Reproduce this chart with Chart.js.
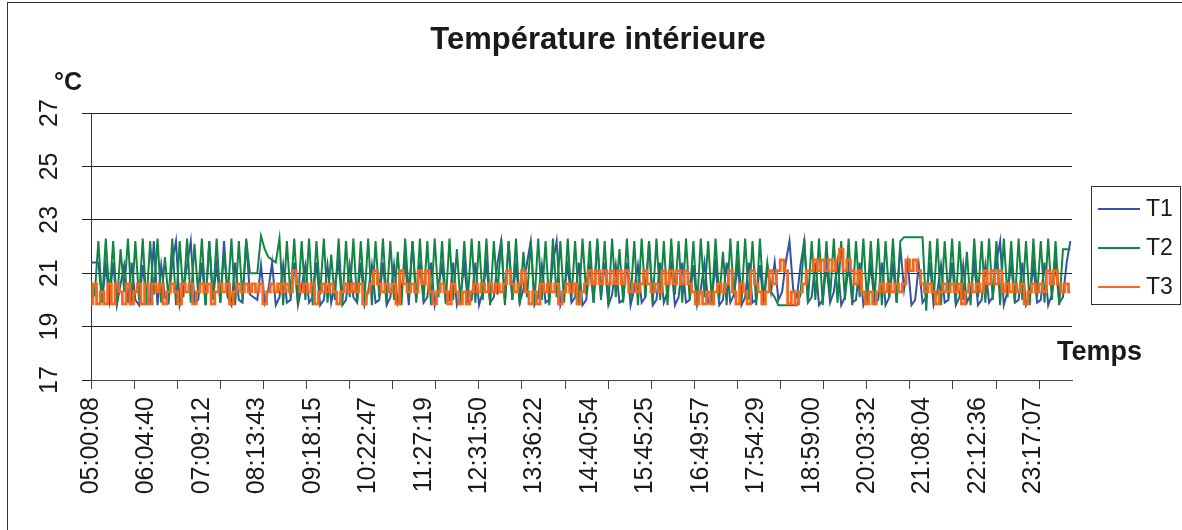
<!DOCTYPE html>
<html lang="fr">
<head>
  <meta charset="UTF-8">
  <title>Température intérieure</title>
  <script src="https://cdn.jsdelivr.net/npm/chart.js"></script>
  <style>
    * { margin: 0; padding: 0; box-sizing: border-box; }
    body { background: #ffffff; width: 1182px; height: 530px; overflow: hidden; }
    #chart-wrap { position: relative; width: 1182px; height: 530px; }
  </style>
</head>
<body>
  <div id="chart-wrap">
    <canvas id="tempChart" width="1182" height="530"></canvas>
  </div>

  <script>
    // sampling: one reading every 258 s, starting at 05:00:08
    const START_TIME = '05:00:08';
    const SAMPLE_S = 258.12;
    const AXIS_END_S = 68517;
    const TICK_STEP_S = 3010;

    const TIME_LABELS = [
      '05:00:08', '06:04:40', '07:09:12', '08:13:43', '09:18:15', '10:22:47',
      '11:27:19', '12:31:50', '13:36:22', '14:40:54', '15:45:25', '16:49:57',
      '17:54:29', '18:59:00', '20:03:32', '21:08:04', '22:12:36', '23:17:07'
    ];
    const Y_TICKS = [17, 19, 21, 23, 25, 27];

    const T1 = [
      21.4, 21.4, 21.4, 19.9, 21.3, 20.0, 21.4, 19.8, 20.6, 21.3, 19.9, 21.4, 20.0, 19.8, 21.3,
      20.0, 19.9, 22.2, 19.8, 21.3, 20.1, 19.9, 21.4, 22.2, 19.8, 20.4, 21.3, 22.2, 19.9, 20.0,
      21.4, 19.8, 22.2, 20.0, 21.3, 19.9, 22.2, 20.1, 19.8, 21.4, 20.0, 19.9, 22.2, 20.2, 20.1,
      20.0, 21.3, 19.9, 20.4, 21.4, 19.8, 20.1, 21.3, 19.9, 20.0, 21.4, 19.8, 20.5, 21.3, 19.9,
      20.1, 21.4, 19.8, 20.0, 21.3, 19.9, 20.6, 21.4, 19.8, 20.0, 21.3, 20.1, 19.9, 21.4, 19.8,
      20.3, 21.3, 19.9, 20.0, 21.4, 19.8, 20.1, 21.3, 19.9, 20.4, 21.4, 19.8, 22.2, 20.0, 21.3,
      19.9, 20.1, 21.4, 19.8, 20.5, 21.3, 19.9, 20.0, 21.4, 19.8, 20.2, 21.3, 19.9, 20.0, 21.4,
      19.8, 20.3, 21.3, 19.9, 20.1, 21.4, 22.2, 19.8, 22.2, 20.0, 21.3, 19.9, 20.4, 21.4, 22.2,
      19.8, 20.1, 21.3, 19.9, 20.0, 21.4, 22.2, 19.8, 20.3, 21.3, 19.9, 20.1, 21.4, 19.8, 20.0,
      21.3, 19.9, 22.2, 20.1, 21.4, 19.8, 20.2, 21.3, 19.9, 20.0, 21.4, 19.8, 20.4, 21.3, 19.9,
      20.1, 22.2, 19.8, 20.0, 21.4, 19.9, 20.3, 21.3, 19.8, 20.1, 21.4, 19.9, 20.0, 21.3, 19.8,
      20.4, 21.4, 19.9, 20.1, 21.3, 19.8, 20.0, 21.4, 19.9, 20.2, 21.3, 19.8, 20.1, 21.4, 19.9,
      20.0, 21.3, 19.8, 21.2, 20.3, 21.4, 20.0, 20.3, 21.4, 22.2, 20.4, 20.1, 21.3, 22.2, 19.9,
      20.1, 21.4, 19.8, 20.0, 21.3, 19.9, 20.3, 21.4, 19.8, 20.1, 21.3, 19.9, 20.0, 21.4, 19.8,
      20.2, 21.3, 19.9, 20.0, 21.4, 19.8, 20.1, 21.3, 19.9, 22.0, 20.4, 21.4, 19.8, 20.0, 21.3,
      19.9, 20.1, 21.4, 19.8, 20.3, 21.3, 19.9, 20.0, 21.4, 19.8, 20.1, 21.3, 19.9, 20.2, 21.4,
      19.8, 20.0, 21.3, 19.9, 20.1, 21.4, 22.2, 19.8, 20.3, 21.3, 19.9, 20.0, 21.4, 19.8, 20.1,
      21.3, 19.9, 20.0, 21.4, 19.8, 20.2, 21.3, 19.9, 20.1, 21.4, 22.2
    ];

    const T2 = [
      20.0, 20.2, 22.2, 19.9, 22.3, 20.1, 22.2, 19.8, 21.9, 20.3, 22.3, 19.9, 22.2, 20.0, 22.3,
      19.8, 22.2, 20.2, 22.3, 19.9, 21.6, 20.0, 22.3, 19.8, 22.2, 20.1, 22.3, 19.9, 22.1, 20.2,
      22.3, 19.8, 22.2, 20.0, 22.3, 19.9, 21.8, 20.1, 22.3, 19.8, 22.2, 20.0, 22.3, 21.0, 21.0,
      21.0, 22.4, 21.9, 21.6, 21.5, 21.4, 22.3, 19.8, 22.2, 20.1, 22.3, 19.9, 22.2, 20.0, 22.3,
      19.8, 22.2, 20.2, 22.3, 19.9, 21.7, 20.0, 22.3, 19.8, 22.2, 20.1, 22.3, 19.9, 22.2, 20.0,
      22.3, 19.8, 22.2, 20.1, 22.3, 19.9, 22.2, 20.0, 21.8, 19.8, 22.3, 20.2, 22.2, 19.9, 22.3,
      20.0, 22.2, 19.8, 22.3, 20.1, 22.2, 19.9, 22.3, 20.0, 21.9, 19.8, 22.2, 20.1, 22.3, 19.9,
      22.2, 20.0, 22.3, 19.8, 22.2, 20.2, 22.3, 19.9, 22.2, 20.0, 22.3, 19.8, 21.8, 20.1, 22.2,
      19.9, 22.3, 20.0, 22.2, 19.8, 22.3, 20.1, 22.2, 19.9, 22.3, 20.0, 22.2, 19.8, 22.3, 20.2,
      22.2, 19.9, 22.3, 20.0, 22.2, 19.8, 22.3, 20.1, 21.9, 19.9, 22.3, 20.0, 22.2, 19.8, 22.3,
      20.1, 22.2, 19.9, 22.3, 20.0, 22.2, 19.8, 22.3, 20.2, 22.2, 19.9, 22.3, 20.0, 22.2, 19.8,
      22.3, 20.1, 22.2, 19.9, 22.3, 20.0, 21.8, 19.8, 22.3, 20.1, 22.2, 19.9, 22.3, 20.0, 22.2,
      19.8, 22.3, 20.0, 21.4, 20.3, 20.1, 19.8, 19.8, 19.8, 19.8, 19.8, 19.8, 20.2, 22.3, 19.9,
      22.2, 20.0, 22.3, 19.8, 22.2, 20.1, 22.3, 19.9, 22.2, 20.0, 22.3, 19.8, 22.2, 20.1, 22.3,
      19.9, 22.2, 20.0, 22.3, 19.8, 22.2, 20.1, 22.3, 19.9, 22.2, 22.35, 22.35, 22.35, 22.35, 22.35,
      22.35, 19.6, 22.2, 20.0, 22.3, 19.8, 22.2, 20.1, 22.3, 19.9, 22.2, 20.0, 21.8, 19.8, 22.3,
      20.1, 22.2, 19.9, 22.3, 20.0, 22.2, 19.8, 22.3, 20.1, 22.2, 19.9, 22.3, 20.0, 22.2, 19.8,
      22.3, 20.1, 22.2, 19.9, 22.3, 20.0, 22.2, 19.8, 21.9, 21.9, 21.9
    ];

    const T3 = [
      19.85, 20.6, 19.85, 20.3, 19.85, 20.6, 19.85, 20.6, 20.3, 19.85, 20.6, 19.85, 20.3, 20.6, 19.85,
      20.6, 19.85, 20.6, 20.3, 20.6, 19.85, 20.3, 20.6, 20.3, 19.85, 20.6, 20.3, 20.6, 19.85, 20.3,
      20.6, 20.3, 20.6, 19.85, 20.3, 20.6, 20.3, 20.6, 19.85, 20.3, 20.6, 20.3, 20.6, 20.3, 20.6,
      20.3, 20.6, 19.85, 20.3, 20.6, 20.3, 20.6, 20.3, 20.6, 20.3, 21.1, 20.6, 20.3, 20.6, 20.3,
      20.6, 19.85, 20.3, 20.6, 20.3, 20.6, 20.3, 19.85, 20.3, 20.6, 20.3, 20.6, 20.3, 20.6, 19.85,
      20.3, 20.6, 21.1, 20.6, 20.3, 20.6, 20.3, 20.6, 19.85, 21.1, 20.6, 20.3, 20.6, 20.3, 21.1,
      20.6, 21.1, 20.3, 19.85, 20.3, 20.6, 20.3, 19.85, 20.6, 20.3, 19.85, 20.3, 19.85, 20.3, 20.6,
      20.3, 20.6, 20.3, 20.6, 20.3, 20.6, 20.3, 20.6, 21.1, 20.6, 20.3, 20.6, 21.1, 20.3, 19.85,
      20.3, 19.85, 20.6, 20.3, 20.6, 20.3, 20.6, 19.85, 20.3, 20.6, 20.3, 20.6, 19.85, 20.3, 20.6,
      21.1, 20.6, 21.1, 20.6, 21.1, 20.6, 21.1, 20.6, 21.1, 20.6, 21.1, 20.3, 20.6, 20.3, 20.6,
      21.1, 20.6, 20.3, 20.6, 20.3, 21.1, 20.6, 21.1, 20.6, 21.1, 20.6, 21.1, 20.6, 20.3, 19.85,
      20.3, 19.85, 20.3, 19.85, 20.3, 20.6, 20.3, 20.6, 21.1, 20.3, 19.85, 20.6, 20.3, 19.85, 21.1,
      20.6, 20.3, 19.85, 20.3, 21.1, 20.6, 21.1, 21.5, 21.1, 19.85, 20.3, 19.85, 20.3, 20.6, 21.1,
      21.1, 21.5, 21.1, 21.5, 21.1, 21.5, 21.1, 21.5, 21.9, 21.1, 21.5, 21.1, 20.6, 21.1, 20.3,
      19.85, 20.3, 19.85, 20.3, 20.6, 20.3, 20.6, 20.3, 20.6, 20.3, 20.6, 21.5, 21.1, 21.5, 21.1,
      20.6, 20.3, 20.6, 20.3, 19.85, 20.3, 20.6, 20.3, 20.6, 20.3, 20.6, 19.85, 20.3, 20.6, 20.3,
      20.6, 20.3, 21.1, 20.6, 21.1, 20.6, 21.1, 20.3, 20.6, 20.3, 20.6, 20.3, 20.6, 19.85, 20.3,
      20.6, 20.3, 20.6, 20.3, 21.1, 20.6, 21.1, 20.6, 20.3, 20.6, 20.3
    ];

    const FONT = '"Liberation Sans", Arial, sans-serif';
    const TEXT_COLOR = '#1a1a1a';

    function toSeconds(hms) {
      const [h, m, s] = hms.split(':').map(Number);
      return h * 3600 + m * 60 + s;
    }
    const t0 = toSeconds(START_TIME);
    const toPoints = arr => arr.map((v, i) => ({ x: i * SAMPLE_S, y: v }));

    // titles, rotated tick labels, legend box and frame
    const decorations = {
      id: 'decorations',
      afterDraw(chart) {
        const c = chart.ctx;
        const xs = chart.scales.x;
        const ys = chart.scales.y;
        c.save();

        c.strokeStyle = '#333';
        c.lineWidth = 1;
        c.strokeRect(7.5, 2.5, 1180, 535);

        c.fillStyle = TEXT_COLOR;
        c.textAlign = 'center';
        c.textBaseline = 'alphabetic';
        c.font = 'bold 31px ' + FONT;
        c.fillText('Température intérieure', 598, 49);

        c.textBaseline = 'middle';
        c.font = 'bold 25px ' + FONT;
        c.fillText('°C', 68, 83);

        c.textAlign = 'left';
        c.font = 'bold 27px ' + FONT;
        c.fillText('Temps', 1057, 353);

        c.font = '25px ' + FONT;
        Y_TICKS.forEach(v => {
          c.save();
          c.translate(50, ys.getPixelForValue(v));
          c.rotate(-Math.PI / 2);
          c.textAlign = 'center';
          c.fillText(String(v), 0, 0);
          c.restore();
        });

        TIME_LABELS.forEach(lbl => {
          const px = xs.getPixelForValue(toSeconds(lbl) - t0);
          c.save();
          c.translate(px, 397);
          c.rotate(-Math.PI / 2);
          c.textAlign = 'right';
          c.fillText(lbl, 0, 0);
          c.restore();
        });

        // legend
        c.strokeStyle = '#333';
        c.strokeRect(1091.5, 186.5, 89, 118);
        c.font = '23px ' + FONT;
        c.textAlign = 'left';
        chart.data.datasets.forEach((ds, i) => {
          const y = 209 + i * 39;
          c.strokeStyle = ds.borderColor;
          c.lineWidth = 2;
          c.beginPath();
          c.moveTo(1098, y);
          c.lineTo(1140, y);
          c.stroke();
          c.fillStyle = TEXT_COLOR;
          c.fillText(ds.label, 1146, y + 1);
        });
        c.restore();
      }
    };

    const ctx = document.getElementById('tempChart').getContext('2d');
    new Chart(ctx, {
      type: 'line',
      data: {
        datasets: [
          { label: 'T1', data: toPoints(T1), borderColor: '#3353a6', borderWidth: 2, order: 3 },
          { label: 'T2', data: toPoints(T2), borderColor: '#118541', borderWidth: 2, order: 2 },
          // T3 holds its value between readings, drawn as steps
          { label: 'T3', data: toPoints(T3), borderColor: '#f26a22', borderWidth: 2.8, stepped: 'middle', order: 1 }
        ]
      },
      options: {
        responsive: false,
        animation: false,
        layout: { padding: { left: 82, right: 110, top: 113, bottom: 141 } },
        elements: { point: { radius: 0 }, line: { tension: 0 } },
        plugins: {
          legend: { display: false },
          title: { display: false },
          tooltip: { enabled: false }
        },
        scales: {
          x: {
            type: 'linear',
            min: 0,
            max: AXIS_END_S,
            afterBuildTicks: scale => {
              const ticks = [];
              for (let v = 0; v <= AXIS_END_S; v += TICK_STEP_S) ticks.push({ value: v });
              scale.ticks = ticks;
            },
            ticks: { display: false },
            grid: { drawOnChartArea: false, drawTicks: true, tickLength: 9, color: '#444', lineWidth: 1 },
            border: { display: true, color: '#444', width: 1 }
          },
          y: {
            min: 17,
            max: 27,
            ticks: { display: false, stepSize: 2 },
            grid: { color: '#222', lineWidth: 1, drawTicks: true, tickLength: 9 },
            border: { display: true, color: '#333', width: 1 }
          }
        }
      },
      plugins: [decorations]
    });
  </script>
</body>
</html>
